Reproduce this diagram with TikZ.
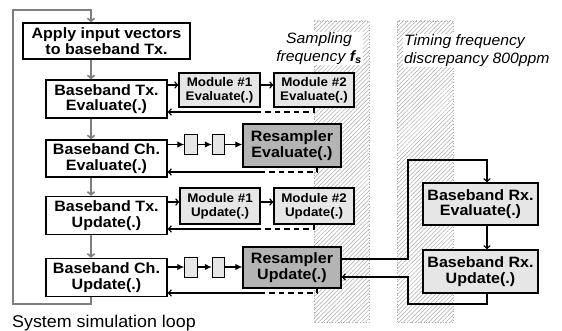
\documentclass[tikz,border=0pt]{standalone}
\usepackage{fontspec}
\setmainfont{Liberation Sans}
\newfontfamily\boxfam{Liberation Sans}[FakeStretch=1.07]
\newfontfamily\notefam{Liberation Sans}[FakeStretch=1.05]
\usetikzlibrary{arrows.meta,patterns.meta}

\definecolor{lightfill}{HTML}{E6E6E6}
\definecolor{resfill}{HTML}{B4B4B4}
\definecolor{loopgray}{HTML}{7F7F7F}
\definecolor{hatchgray}{HTML}{ABABAB}

\tikzset{
  bigbox/.style={draw, line width=1.4pt, fill=white, inner sep=0pt, align=center,
    font=\boxfam\bfseries\fontsize{15}{15.5}\selectfont},
  modbox/.style={draw, line width=1.3pt, fill=lightfill, inner sep=0pt, align=center,
    font=\boxfam\bfseries\fontsize{12.5}{14}\selectfont},
  resbox/.style={bigbox, fill=resfill},
  rxbox/.style={bigbox, fill=lightfill},
  sqbox/.style={draw, line width=1pt, fill=lightfill, inner sep=0pt,
    minimum width=12.5pt, minimum height=20pt},
  conn/.style={line width=1.1pt, -{Straight Barb[length=3pt,width=6.5pt,line width=1.1pt]}},
  backconn/.style={line width=1.1pt, dash pattern=on 5.5pt off 4pt},
  fatconn/.style={line width=1.1pt, -{Latex[length=7pt,width=6.5pt]}},
  loopline/.style={draw=loopgray, line width=2pt},
  looparrow/.style={loopline, -{Straight Barb[length=3pt,width=7pt,line width=1.6pt]}},
  bandfill/.style={pattern={Lines[angle=45,distance=3pt,line width=0.5pt]},
    pattern color=hatchgray},
  bandedge/.style={draw=hatchgray, line width=0.8pt, dotted},
  note/.style={fill=white, inner sep=1pt, font=\notefam\itshape\fontsize{15}{17.5}\selectfont}
}

\begin{document}
\begin{tikzpicture}[x=1pt,y=-1pt]
\useasboundingbox (0,0) rectangle (562,331);
\fill[white] (0,0) rectangle (562,331);

% clock-domain bands
\fill[bandfill] (314,21) rectangle (369,322);
\draw[bandedge] (314,21) rectangle (369,322);
\fill[bandfill] (397,21) rectangle (453,322);
\draw[bandedge] (397,21) rectangle (453,322);

\node[note, align=center] (lfs) at (319,48.5)
  {Sampling\\frequency {\bfseries f\textsubscript{s}}};
\node[note, align=left, anchor=west] (lppm) at (403,50.5)
  {Timing frequency\\discrepancy 800ppm};

% simulation kernel (left column)
\node[bigbox, minimum width=167pt, minimum height=36pt] (apply) at (106.5,41)
  {Apply input vectors\\to baseband Tx.};
\node[bigbox, minimum width=121pt, minimum height=38pt] (txe) at (106.5,99)
  {Baseband Tx.\\Evaluate(.)};
\node[bigbox, minimum width=121pt, minimum height=37pt] (che) at (106.5,158.5)
  {Baseband Ch.\\Evaluate(.)};
\node[bigbox, minimum width=121pt, minimum height=38pt] (txu) at (106.5,215.5)
  {Baseband Tx.\\Update(.)};
\node[bigbox, minimum width=121pt, minimum height=38pt] (chu) at (106.5,277.5)
  {Baseband Ch.\\Update(.)};

% transmitter modules
\node[modbox, minimum width=81pt, minimum height=34pt] (m1e) at (219.5,90) {Module \#1\\Evaluate(.)};
\node[modbox, minimum width=80pt, minimum height=34pt] (m2e) at (314,90) {Module \#2\\Evaluate(.)};
\node[modbox, minimum width=80pt, minimum height=36pt] (m1u) at (220,206) {Module \#1\\Update(.)};
\node[modbox, minimum width=80pt, minimum height=36pt] (m2u) at (314,206) {Module \#2\\Update(.)};

% channel blocks and resampler
\node[sqbox] (sq1e) at (191,144.5) {};
\node[sqbox] (sq2e) at (218.5,144.5) {};
\node[resbox, minimum width=98pt, minimum height=43pt] (rse) at (292,145.5) {Resampler\\Evaluate(.)};
\node[sqbox] (sq1u) at (191,267) {};
\node[sqbox] (sq2u) at (218.5,267) {};
\node[resbox, minimum width=98pt, minimum height=41pt] (rsu) at (292,267.5) {Resampler\\Update(.)};

% receiver
\node[rxbox, minimum width=115pt, minimum height=42pt] (rxe) at (480.5,204) {Baseband Rx.\\Evaluate(.)};
\node[rxbox, minimum width=115pt, minimum height=43pt] (rxu) at (480.5,271.5) {Baseband Rx.\\Update(.)};

\node[anchor=base west, inner sep=0pt, font=\notefam\fontsize{17}{18}\selectfont] (cap) at (12,327)
  {System simulation loop};

% system simulation loop
\coordinate (lbr) at (91,304);
\coordinate (lbl) at (13,304);
\coordinate (ltl) at (13,10);
\coordinate (ltr) at (91,10);
\draw[looparrow] (chu.south -| lbr) -- (lbr) -- (lbl) -- (ltl) -- (ltr) -- (apply.north -| ltr);
\draw[looparrow] (apply.south -| ltr) -- (txe.north -| ltr);
\draw[looparrow] (txe.south -| ltr) -- (che.north -| ltr);
\draw[looparrow] (che.south -| ltr) -- (txu.north -| ltr);
\draw[looparrow] (txu.south -| ltr) -- (chu.north -| ltr);

% Tx evaluate chain
\coordinate (r1) at (0,85);
\coordinate (b1) at (260,112);
\draw[conn] (txe.east |- r1) -- (m1e.west |- r1);
\draw[conn] (m1e.east |- r1) -- (m2e.west |- r1);
\draw[backconn] (m2e.south) |- (b1);
\draw[conn] (b1) -- (txe.east |- b1);

% channel evaluate chain
\coordinate (r2) at (0,144.5);
\coordinate (d2) at (317,167);
\coordinate (b2) at (262,172);
\draw[fatconn] (che.east |- r2) -- (sq1e.west);
\draw[fatconn] (sq1e.east) -- (sq2e.west);
\draw[fatconn] (sq2e.east) -- (rse.west |- r2);
\draw[backconn] (d2) |- (b2);
\draw[conn] (b2) -- (che.east |- b2);

% Tx update chain
\coordinate (r3) at (0,202);
\coordinate (b3) at (260,229);
\draw[conn] (txu.east |- r3) -- (m1u.west |- r3);
\draw[conn] (m1u.east |- r3) -- (m2u.west |- r3);
\draw[backconn] (m2u.south) |- (b3);
\draw[conn] (b3) -- (txu.east |- b3);

% channel update chain
\coordinate (r4) at (0,267);
\coordinate (d4) at (317,288);
\coordinate (b4) at (262,293);
\draw[fatconn] (chu.east |- r4) -- (sq1u.west);
\draw[fatconn] (sq1u.east) -- (sq2u.west);
\draw[fatconn] (sq2u.east) -- (rsu.west |- r4);
\draw[backconn] (d4) |- (b4);
\draw[conn] (b4) -- (chu.east |- b4);

% resampler to receiver and back
\coordinate (ra) at (408,259);
\coordinate (rb) at (408,160);
\coordinate (rc) at (487,160);
\coordinate (rd) at (487,304);
\coordinate (re) at (408,304);
\coordinate (rf) at (408,277);
\draw[conn] (rsu.east |- ra) -- (ra) -- (rb) -- (rc) -- (rxe.north -| rc);
\draw[conn] (rxe.south -| rc) -- (rxu.north -| rc);
\draw[conn] (rxu.south -| rd) -- (rd) -- (re) -- (rf) -- (rsu.east |- rf);
\end{tikzpicture}
\end{document}
